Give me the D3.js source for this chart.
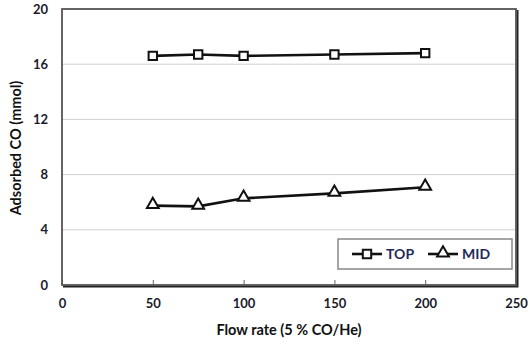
<!DOCTYPE html>
<html><head><meta charset="utf-8">
<script src="https://cdn.jsdelivr.net/npm/d3@7"></script>
<style>body{margin:0;background:#fff}svg{display:block;font-family:Lato,"Open Sans",sans-serif;font-weight:bold}</style>
</head><body><svg id="c" width="531" height="345"></svg>
<script>
const flowRates = [50, 75, 100, 150, 200];
const topValues = [16.6, 16.7, 16.6, 16.7, 16.8];
const midValues = [5.75, 5.7, 6.28, 6.64, 7.08];
const xTicks = [0, 50, 100, 150, 200, 250];
const yTicks = [0, 4, 8, 12, 16, 20];

const svg = d3.select("#c");
const L = 62, R = 516, T = 9, B = 285;
const x = d3.scaleLinear().domain([0, 250]).range([L, R]);
const y = d3.scaleLinear().domain([0, 20]).range([B, T]);

svg.append("g").selectAll("line").data(yTicks.filter(d => d > 0 && d < 20)).join("line")
  .attr("x1", L).attr("x2", R).attr("y1", d => y(d)).attr("y2", d => y(d))
  .attr("stroke", "#d0d0d0").attr("stroke-width", 1);

const xa = svg.append("g").attr("transform", `translate(0,${B})`)
  .call(d3.axisBottom(x).tickValues(xTicks).tickSize(-5).tickPadding(14));
xa.select(".domain").remove();
xa.selectAll("line").attr("stroke", "#666");
xa.selectAll("text").attr("font-size", 13).attr("fill", "#1b1b2b").attr("font-family", "Lato").attr("font-weight", "bold");

const ya = svg.append("g").attr("transform", `translate(${L},0)`)
  .call(d3.axisLeft(y).tickValues(yTicks).tickSize(0).tickPadding(14));
ya.select(".domain").remove();
ya.selectAll("text").attr("font-size", 13).attr("fill", "#1b1b2b").attr("font-family", "Lato").attr("font-weight", "bold");

svg.append("path").attr("d", `M${R+1.5},${T+1}V${B+1.5}H${L+1}`).attr("fill", "none").attr("stroke", "#222").attr("stroke-width", 2);
svg.append("rect").attr("x", L).attr("y", T).attr("width", R - L).attr("height", B - T)
  .attr("fill", "none").attr("stroke", "#555").attr("stroke-width", 1.8);

const line = d3.line().x(d => x(d[0])).y(d => y(d[1]));
const topData = flowRates.map((f, i) => [f, topValues[i]]);
const midData = flowRates.map((f, i) => [f, midValues[i]]);
svg.append("path").datum(topData).attr("d", line).attr("fill", "none").attr("stroke", "#111").attr("stroke-width", 2.6);
svg.append("path").datum(midData).attr("d", line).attr("fill", "none").attr("stroke", "#111").attr("stroke-width", 2.6);

const sq = d3.symbol().type(d3.symbolSquare).size(70);
const tri = d3.symbol().type(d3.symbolTriangle).size(60);
svg.append("g").selectAll("path").data(topData).join("path")
  .attr("d", sq).attr("transform", d => `translate(${x(d[0])},${y(d[1])})`)
  .attr("fill", "#fff").attr("stroke", "#111").attr("stroke-width", 2);
svg.append("g").selectAll("path").data(midData).join("path")
  .attr("d", tri).attr("transform", d => `translate(${x(d[0])},${y(d[1]) - 1})`)
  .attr("fill", "#fff").attr("stroke", "#111").attr("stroke-width", 2);

svg.append("text").attr("x", 289).attr("y", 335).attr("text-anchor", "middle")
  .attr("font-size", 14.5).attr("fill", "#111").text("Flow rate (5 % CO/He)");
svg.append("text").attr("transform", `translate(21,148) rotate(-90)`).attr("text-anchor", "middle")
  .attr("font-size", 14.5).attr("fill", "#111").text("Adsorbed CO (mmol)");

const lg = svg.append("g");
lg.append("rect").attr("x", 338).attr("y", 239).attr("width", 174).attr("height", 30)
  .attr("fill", "#fff").attr("stroke", "#888").attr("stroke-width", 1.5);
const items = [{name: "TOP", sym: sq, lx: 352, tx: 386}, {name: "MID", sym: tri, lx: 428, tx: 462}];
items.forEach(it => {
  lg.append("line").attr("x1", it.lx).attr("x2", it.lx + 30).attr("y1", 254).attr("y2", 254)
    .attr("stroke", "#111").attr("stroke-width", 2.6);
  lg.append("path").attr("d", it.sym).attr("transform", `translate(${it.lx + 15},${it.name === "MID" ? 253 : 254})`)
    .attr("fill", "#fff").attr("stroke", "#111").attr("stroke-width", 2);
  lg.append("text").attr("x", it.tx).attr("y", 259).attr("font-size", 14).attr("fill", "#1f2a5a").text(it.name);
});
</script></body></html>
